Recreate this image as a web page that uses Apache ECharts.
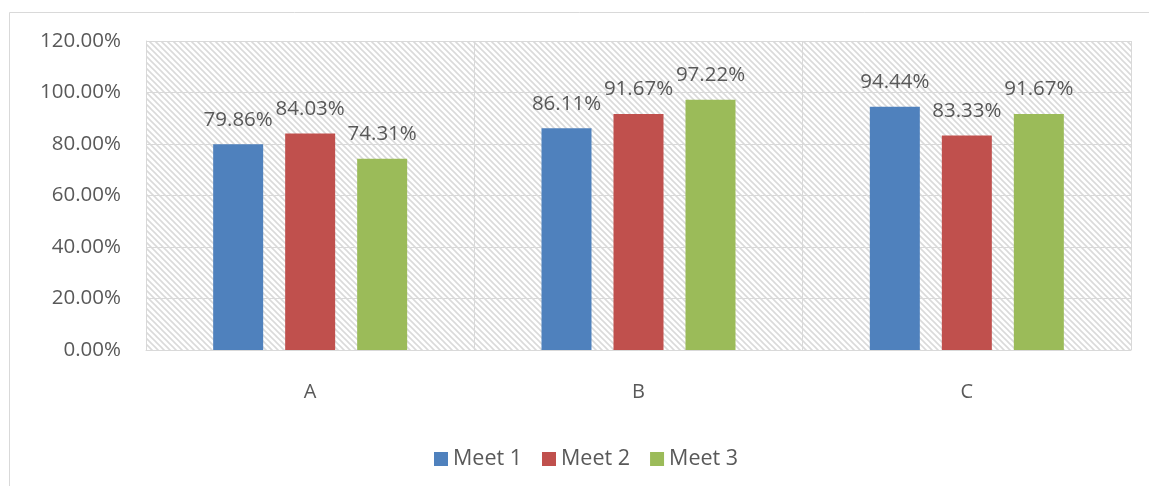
<!DOCTYPE html>
<html>
<head>
<meta charset="utf-8">
<script src="https://cdn.jsdelivr.net/npm/echarts@6/dist/echarts.min.js"></script>
<style>
html,body{margin:0;padding:0;background:#fff;}
#c{width:1149px;height:486px;}
</style>
</head>
<body>
<div id="c"></div>
<script>
var categories = ['A', 'B', 'C'];
var meet1 = [79.86, 86.11, 94.44];
var meet2 = [84.03, 91.67, 83.33];
var meet3 = [74.31, 97.22, 91.67];
var seriesNames = ['Meet 1', 'Meet 2', 'Meet 3'];
var seriesColors = ['#4f81bd', '#c0504d', '#9bbb59'];

// hatch tile
var tile = document.createElement('canvas');
var s = 6;
tile.width = s; tile.height = s;
var tc = tile.getContext('2d');
tc.fillStyle = '#ffffff';
tc.fillRect(0, 0, s, s);
tc.strokeStyle = '#dadada';
tc.lineWidth = 1.6;
tc.beginPath();
tc.moveTo(-1, -1); tc.lineTo(s + 1, s + 1);
tc.moveTo(-1, s - 1); tc.lineTo(1, s + 1);
tc.moveTo(s - 1, -1); tc.lineTo(s + 1, 1);
tc.stroke();

var font = 'Open Sans';
var textColor = '#595959';
var chart = echarts.init(document.getElementById('c'));

function mk(i, data) {
  return {
    name: seriesNames[i],
    type: 'bar',
    data: data,
    barWidth: 50,
    barGap: '44%',
    itemStyle: { color: seriesColors[i] },
    label: {
      show: true,
      position: 'top',
      distance: 14,
      color: textColor,
      fontFamily: font,
      fontSize: 20.5,
      formatter: function (p) { return p.value.toFixed(2) + '%'; }
    }
  };
}

chart.setOption({
  animation: false,
  backgroundColor: '#ffffff',
  graphic: [{
    type: 'rect',
    shape: { x: 9.5, y: 12.5, width: 1160, height: 500 },
    style: { fill: 'none', stroke: '#d9d9d9', lineWidth: 1 },
    silent: true,
    z: -1
  }],
  grid: {
    left: 146, right: 18, top: 41, bottom: 136,
    show: true,
    borderWidth: 0,
    backgroundColor: { image: tile, repeat: 'repeat' }
  },
  legend: {
    left: 429,
    top: 443,
    itemWidth: 14,
    itemHeight: 14,
    itemGap: 20,
    icon: 'rect',
    textStyle: { color: textColor, fontFamily: font, fontSize: 21.5 },
    data: seriesNames
  },
  xAxis: {
    type: 'category',
    data: categories,
    axisLine: { show: true, lineStyle: { color: '#d9d9d9', width: 1 } },
    axisTick: { show: false },
    splitLine: { show: true, lineStyle: { color: '#d9d9d9', width: 1 } },
    axisLabel: { color: textColor, fontFamily: font, fontSize: 20, margin: 32 }
  },
  yAxis: {
    type: 'value',
    min: 0, max: 120, interval: 20,
    axisLine: { show: true, lineStyle: { color: '#d9d9d9', width: 1 } },
    axisTick: { show: false },
    splitLine: { show: true, lineStyle: { color: '#d9d9d9', width: 1 } },
    axisLabel: {
      color: textColor, fontFamily: font, fontSize: 20.5, margin: 25,
      formatter: function (v) { return v.toFixed(2) + '%'; }
    }
  },
  series: [mk(0, meet1), mk(1, meet2), mk(2, meet3)]
});
</script>
</body>
</html>
